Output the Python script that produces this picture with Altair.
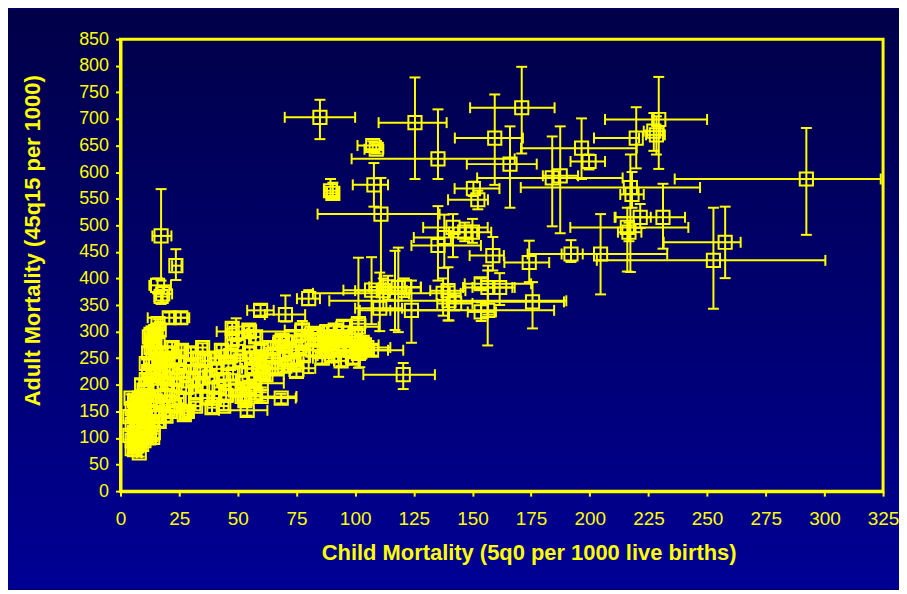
import altair as alt
import pandas as pd

YELLOW = "#FFFF00"
FONT = "Liberation Sans, Arial, sans-serif"

# ---- isolated points (asymmetric uncertainty ranges) ----
OX = [85, 125.5, 171, 159.5, 135.3, 107.5, 109, 108, 89.5, 90.5,
      111, 166, 150.4, 152.3, 184, 187.4, 196.5, 199.7, 219.8, 229.4,
      227.3, 228.4, 292.3, 217.3, 218, 221.5, 231.2, 216, 216.7, 257.7,
      252.7, 204.6, 192, 174.2, 158.7, 175.6, 156.5, 156.6, 161.6, 135.3,
      138, 141.7, 150, 146.7, 137.5, 140, 124, 118.4, 112, 114,
      110.5, 107, 101.4, 102, 120.5, 80.2, 70.3, 59.7, 77.5, 68.5,
      54, 49.3, 17.3, 23.6, 15.8, 18, 17.3, 20.8, 25.7, 139.6,
      142.4, 153.7, 153.7, 121, 117, 100.6, 93, 80.2, 56, 66,
      62, 60, 60, 55]
OY = [703, 693, 721, 664, 625, 650, 643, 576, 565, 560,
      521, 615, 569, 548, 589, 593, 645, 620, 664, 699,
      677, 670, 587, 571, 558, 515, 515, 496, 487, 468,
      434, 446, 446, 430, 443, 356, 340, 383, 383, 462,
      477, 496, 487, 487, 372, 358, 340, 383, 377, 384,
      344, 378, 309, 262, 219, 362, 332, 340, 303, 175,
      152, 297, 480, 424, 387, 371, 366, 326, 326, 377,
      353, 390, 337, 384, 371, 265, 265, 285, 250, 231,
      219, 203, 178, 300]
OXLO = [70, 110, 149, 142.5, 98.5, 101, 104, 99, 87, 88,
        84, 147.6, 142.4, 139.6, 152, 180, 170.7, 191.8, 201.8, 206.5,
        223, 224, 236.2, 170.6, 213, 210.6, 211, 191.7, 212, 231.5,
        203, 173.5, 188, 163.6, 148.8, 139, 102, 146, 150, 124,
        125, 129, 140, 142, 82, 89, 115, 110, 100, 106,
        100, 95, 92, 96, 103.5, 75.2, 61.5, 54, 70, 60,
        42, 45, 13.6, 22, 12.3, 15, 14.5, 11.6, 23, 132,
        135, 146.7, 148, 113, 112, 85.8, 88, 75, 40.6, 51.8,
        57.6, 50, 48, 41]
OXHI = [100, 139, 185, 171.5, 168, 111, 112, 114, 92, 93,
        136, 177.4, 161.5, 156.6, 214, 195, 220, 206.5, 221, 250,
        231.5, 232, 324, 247, 223, 226, 240.6, 242, 222, 264.3,
        300.4, 233, 197, 182.7, 163.4, 189, 184.8, 167, 168, 153.6,
        150, 156.5, 158, 152, 145, 190, 140, 128, 122, 120,
        120, 115, 110, 108, 134, 85, 78.7, 65.3, 85, 74.7,
        62.6, 54, 21.7, 26, 21.5, 22, 20, 29.3, 28.5, 147,
        150, 175, 160, 128, 123, 120.5, 98, 86, 76, 83,
        69.6, 69.6, 75, 81]
OYLO = [662, 587, 635, 576, 587, 640, 635, 535, 555, 550,
        385, 533, 555, 530, 498, 485, 587, 605, 607, 606,
        640, 633, 482, 412, 533, 495, 456, 413, 470, 400.6,
        343, 370, 431, 393, 415, 306, 274, 332, 350, 396,
        420, 440, 467, 470, 330, 321, 279, 299, 340, 360,
        301, 314, 232, 233, 192, 350, 319, 330, 285, 165,
        142, 282, 396, 397, 372, 355, 352, 315, 315, 321,
        340, 380, 320, 365, 303, 255, 215, 222, 240, 222,
        210, 195, 170, 290]
OYHI = [736, 778, 798, 746, 718, 658, 652, 617, 587, 580,
        589, 686, 582, 565, 667, 686, 701, 633, 722, 779,
        711, 705, 683, 633, 600, 540, 578, 533, 505, 535,
        533, 521, 472, 471, 478, 393, 415, 424, 410, 536,
        520, 521, 512, 505, 400, 385, 396, 458, 400, 405,
        411, 440, 439, 290, 241, 378, 368, 350, 320, 183,
        162, 325, 568, 455, 400, 385, 378, 336, 336, 421,
        368, 400, 355, 400, 452, 275, 300, 300, 262, 240,
        228, 212, 186, 310]

# ---- dense cluster (symmetric half-widths) ----
CX = [5, 5, 6, 5, 6, 5, 6, 7, 8, 7, 4.5, 8, 6, 6, 7, 8, 10, 12, 13.7, 10,
      11, 9, 10, 8, 11, 12, 13, 14, 15, 4, 4, 9, 11, 7, 9,
      9, 11, 12, 13, 14, 10, 12.3, 14.4, 13, 15, 14, 16.5, 16, 12, 15, 11, 16, 13, 17,
      16.5, 19.4, 17, 15, 19, 16, 18, 20, 17, 19, 21, 22, 23, 24, 25, 26, 25, 27, 28, 27.2,
      28.5, 22, 20, 23, 21,
      30, 30, 31, 32, 33, 34, 35, 36, 37, 38, 39, 40, 41, 42, 43, 44, 45, 46, 47, 48,
      49, 50, 51, 52, 51.8, 57.6, 53, 55, 56, 55, 57, 58, 59, 60, 61, 62, 32, 35, 44, 40,
      47.6, 47.6, 54.7, 57.6,
      64, 65, 66, 68, 70, 70.3, 68.9, 72, 74, 76, 77, 77.4, 78, 81.6, 82, 84, 85, 85, 86, 87,
      88, 89, 90, 90, 91.5, 91.5, 92, 93, 95, 95.7, 96, 97, 98, 100, 101.4, 101.4, 103, 105, 107, 104,
      99, 94, 88, 75, 70]
CY = [80, 95, 110, 125, 140, 155, 170, 85, 100, 130, 175, 72, 78, 90, 150, 120, 95, 100, 101, 110,
      130, 145, 160, 175, 180, 150, 125, 110, 140, 105, 140, 88, 118, 160, 165,
      200, 210, 225, 195, 220, 190, 290, 284, 295, 300, 272, 303, 280, 260, 245, 240, 315, 270, 250,
      131, 141, 165, 170, 180, 200, 215, 200, 230, 245, 225, 190, 250, 210, 175, 265, 240, 225, 195, 144,
      150, 270, 260, 160, 150,
      260, 235, 210, 185, 250, 225, 200, 245, 175, 215, 157, 250, 230, 195, 265, 210, 180, 240, 255, 220,
      190, 275, 245, 205, 178, 181, 170, 260, 230, 195, 210, 250, 235, 265, 220, 245, 160, 270, 160, 175,
      284, 306, 303, 290,
      270, 255, 230, 280, 250, 281, 284, 265, 240, 270, 284, 303, 255, 297, 265, 295, 284, 275, 250, 290,
      265, 280, 255, 290, 303, 284, 270, 285, 310, 284, 275, 290, 265, 295, 315, 259, 280, 270, 265, 275,
      250, 245, 300, 225, 235]
CEX = [1, 1, 1.5, 1, 1.5, 1.5, 1.5, 1, 1.5, 1.5, 1, 1, 1, 1, 1, 1, 1, 1, 1.5, 1.5,
       1, 1.5, 1, 1, 1.5, 1, 1.5, 1, 1.5, 1, 1, 1, 1, 1, 1,
       1, 1, 1, 1, 1, 2, 1.5, 1.5, 1.5, 2, 1.5, 1.5, 1.5, 1, 1.5, 1, 1, 1, 1.5,
       2, 2, 1.5, 2, 2, 2, 2, 2, 2, 2, 2, 2, 2, 2, 2, 2, 2, 2, 2, 2,
       2, 2, 2, 2, 2,
       2, 2, 2, 2, 2, 2, 2, 2, 2, 2, 2, 2, 2, 2, 2, 2, 2, 2, 2, 2,
       2, 3, 2, 2, 2, 2, 2, 2, 2, 2, 2.5, 2, 2.5, 3, 2.5, 2.5, 2, 2, 2, 2,
       2, 2, 2, 2,
       3, 3, 3.5, 3, 4, 3, 3, 4, 4, 4, 3, 3, 6, 3, 4, 4, 4, 4, 4, 3,
       4, 3, 3, 3, 3, 3, 3, 3, 3, 3, 3, 3, 3, 3, 3, 3, 3, 10, 7, 6,
       3, 3, 3, 3, 3]
CEY = [8, 10, 10, 10, 12, 10, 10, 10, 10, 10, 7, 7, 7, 10, 10, 10, 7, 8, 7, 10,
       10, 10, 10, 10, 10, 10, 10, 10, 10, 8, 8, 8, 8, 8, 8,
       10, 10, 10, 10, 10, 10, 15, 15, 15, 15, 15, 15, 12, 10, 10, 10, 8, 10, 10,
       10, 10, 10, 10, 10, 10, 10, 10, 10, 10, 10, 10, 10, 10, 10, 10, 10, 10, 10, 10,
       10, 10, 10, 10, 8,
       10, 10, 10, 10, 10, 10, 10, 10, 10, 10, 10, 10, 10, 10, 10, 10, 10, 10, 10, 10,
       10, 10, 10, 10, 8, 8, 10, 10, 10, 10, 10, 10, 10, 10, 10, 10, 8, 8, 8, 8,
       10, 10, 10, 10,
       10, 10, 10, 10, 10, 10, 10, 10, 10, 10, 10, 10, 10, 10, 10, 10, 10, 10, 10, 10,
       10, 10, 10, 10, 10, 10, 10, 10, 10, 10, 10, 10, 10, 10, 10, 10, 10, 10, 10, 10,
       10, 10, 10, 10, 10]

X_TICKS = [0, 25, 50, 75, 100, 125, 150, 175, 200, 225, 250, 275, 300, 325]
Y_TICKS = [0, 50, 100, 150, 200, 250, 300, 350, 400, 450, 500, 550, 600, 650, 700, 750, 800, 850]

# ---- assemble tables ----
xs = OX + CX
ys = OY + CY
xlo = OXLO + [x - e for x, e in zip(CX, CEX)]
xhi = OXHI + [x + e for x, e in zip(CX, CEX)]
ylo = OYLO + [y - e for y, e in zip(CY, CEY)]
yhi = OYHI + [y + e for y, e in zip(CY, CEY)]

pts = pd.DataFrame({"x": xs, "y": ys, "xlo": xlo, "xhi": xhi, "ylo": ylo, "yhi": yhi})
caps_x = pd.DataFrame({"x": xlo + xhi, "y": ys + ys})
caps_y = pd.DataFrame({"x": xs + xs, "y": ylo + yhi})
one = pd.DataFrame({"k": [0]})

W, H = 766, 454
PAD = {"left": 113, "top": 30, "right": 16, "bottom": 98}

xscale = alt.Scale(domain=[0, 325], nice=False)
yscale = alt.Scale(domain=[0, 850], nice=False)

xaxis = alt.Axis(
    values=X_TICKS, grid=False, title="Child Mortality (5q0 per 1000 live births)",
    domainColor=YELLOW, domainWidth=3, tickColor=YELLOW, tickWidth=2, tickSize=5,
    labelColor=YELLOW, labelFont=FONT, labelFontSize=19, labelPadding=14,
    labelFlush=False, labelOverlap=False,
    titleColor=YELLOW, titleFont=FONT, titleFontSize=22, titleFontWeight="bold",
    titleX=410, titleY=69, titleAlign="center", titleBaseline="alphabetic", zindex=1,
)
yaxis = alt.Axis(
    values=Y_TICKS, grid=False, title="Adult Mortality (45q15 per 1000)",
    domainColor=YELLOW, domainWidth=3, tickColor=YELLOW, tickWidth=2, tickSize=5,
    labelColor=YELLOW, labelFont=FONT, labelFontSize=18, labelPadding=7,
    labelFlush=False, labelOverlap=False,
    titleColor=YELLOW, titleFont=FONT, titleFontSize=22, titleFontWeight="bold",
    titleAngle=270, titleX=-81, titleY=202, titleAlign="center", titleBaseline="alphabetic",
    zindex=1,
)

def X(f):
    return alt.X(f, type="quantitative", scale=xscale, axis=xaxis)

def Y(f):
    return alt.Y(f, type="quantitative", scale=yscale, axis=yaxis)

bg = alt.Chart(one).mark_rect(
    color=alt.LinearGradient(
        gradient="linear",
        stops=[alt.GradientStop(color="#000048", offset=0),
               alt.GradientStop(color="#000094", offset=1)],
        x1=0, x2=0, y1=0, y2=1,
    )
).encode(x=alt.value(-PAD["left"]), x2=alt.value(W + PAD["right"]),
         y=alt.value(-PAD["top"]), y2=alt.value(H + PAD["bottom"]))

hbars = alt.Chart(pts).mark_rule(color=YELLOW, strokeWidth=2).encode(
    x=X("xlo"), x2="xhi:Q", y=Y("y"))
vbars = alt.Chart(pts).mark_rule(color=YELLOW, strokeWidth=2).encode(
    x=X("x"), y=Y("ylo"), y2="yhi:Q")
capx = alt.Chart(caps_x).mark_tick(orient="vertical", color=YELLOW, size=11,
                                   thickness=2, opacity=1).encode(x=X("x"), y=Y("y"))
capy = alt.Chart(caps_y).mark_tick(orient="horizontal", color=YELLOW, size=11,
                                   thickness=2, opacity=1).encode(x=X("x"), y=Y("y"))
squares = alt.Chart(pts).mark_point(shape="square", filled=False, size=175,
                                    strokeWidth=2, color=YELLOW, opacity=1).encode(
    x=X("x"), y=Y("y"))
frame = alt.Chart(one).mark_rect(fillOpacity=0, stroke=YELLOW, strokeWidth=3).encode(
    x=alt.value(0), x2=alt.value(W), y=alt.value(0), y2=alt.value(H))

chart = alt.layer(bg, hbars, vbars, capx, capy, squares, frame).properties(
    width=W, height=H,
    autosize=alt.AutoSizeParams(type="none"),
    padding=PAD,
).configure(background="#00006a").configure_view(stroke=None)

chart.save("out.html", embed_options={"renderer": "svg", "actions": False})
